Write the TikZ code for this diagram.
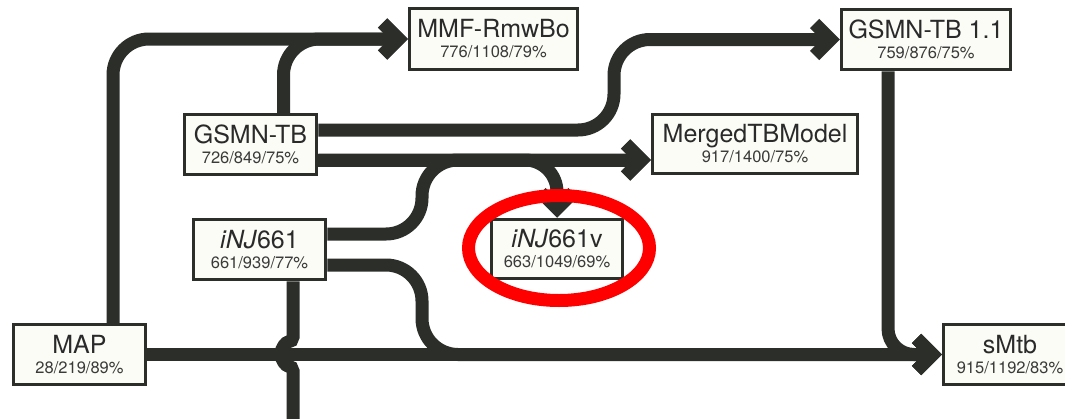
\documentclass[tikz,border=0pt]{standalone}
\usepackage{fontspec}
\setmainfont{TeX Gyre Heros}
\usetikzlibrary{arrows.meta}
\definecolor{ln}{HTML}{2B2E29}
\definecolor{bx}{HTML}{FCFCF6}
\definecolor{tx}{HTML}{2A2A2A}
\definecolor{nm}{HTML}{3A3A3A}
\newcommand{\nums}[1]{{\fontsize{16.5}{20}\selectfont\color{nm}#1}}
\begin{document}
\begin{tikzpicture}[x=1pt,y=-1pt,
  box/.style={draw=ln,line width=3.5pt,fill=bx,inner sep=0pt,align=center,text=tx,
    font=\fontsize{25}{20}\selectfont},
  conn/.style={draw=ln,line width=13pt,rounded corners=36pt},
  arr/.style={-{Straight Barb[length=16pt,width=32pt]}}]
\useasboundingbox (0,0) rectangle (1065,418);
\clip (0,0) rectangle (1065,418);
% nodes
\node[box,minimum width=132pt,minimum height=60pt] (G)   at (250.5,144.5) {GSMN-TB\\\nums{726/849/75\%}};
\node[box,minimum width=168pt,minimum height=61pt] (MMF) at (493.5,39)    {MMF-RmwBo\\\nums{776/1108/79\%}};
\node[box,minimum width=169pt,minimum height=60pt] (G11) at (926,39.5)    {GSMN-TB 1.1\\\nums{759/876/75\%}};
\node[box,minimum width=205pt,minimum height=59pt] (MTB) at (755,144)     {MergedTBModel\\\nums{917/1400/75\%}};
\node[box,minimum width=132pt,minimum height=60pt] (N)   at (259.5,249.5) {\textit{iNJ}661\\\nums{661/939/77\%}};
\node[box,minimum width=131pt,minimum height=59pt] (V)   at (557,249)     {\textit{iNJ}661v\\\nums{663/1049/69\%}};
\node[box,minimum width=132pt,minimum height=60pt] (MAP) at (79.5,354.5)  {MAP\\\nums{28/219/89\%}};
\node[box,minimum width=133pt,minimum height=60pt] (S)   at (1010,354.5)  {sMtb\\\nums{915/1192/83\%}};
% helper coordinates
\coordinate (g1) at ([yshift=14.5pt]G.east);
\coordinate (g2) at ([yshift=-15.5pt]G.east);
\coordinate (n1) at ([yshift=15.5pt]N.east);
\coordinate (n2) at ([yshift=-15.5pt]N.east);
\coordinate (out) at (293,440);
% connectors
\draw[conn,arr] ([xshift=33.5pt]MAP.north) |- (MMF.west);
\draw[conn,arr] ([xshift=33pt]G.north) |- (MMF.west);
\draw[conn,arr] (g1) -- (614,130) -- (614,39.5) -- (G11.west);
\draw[conn,arr] (g2) -- (g2 -| MTB.west);
\draw[conn,arr,rounded corners=32pt] (g2) -| (V.north);
\draw[conn,arr] (n1) -- (422,234) -- (422,160) -- (g2 -| MTB.west);
\draw[conn,arr] (n2) -- (422,265) -- (422,354.5) -- (S.west);
\draw[conn,arr] (MAP.east) -- (S.west);
\draw[conn,arr,rounded corners=26pt] ([xshift=-38pt]G11.south) |- (S.west);
\draw[conn,rounded corners=5pt] ([xshift=33.5pt]N.south) -- (293,342) arc[start angle=90,end angle=270,radius=12pt] -- (out);
% highlight
\draw[red,line width=13pt] (559,248) ellipse [x radius=90.5pt,y radius=52.5pt];
\end{tikzpicture}
\end{document}
